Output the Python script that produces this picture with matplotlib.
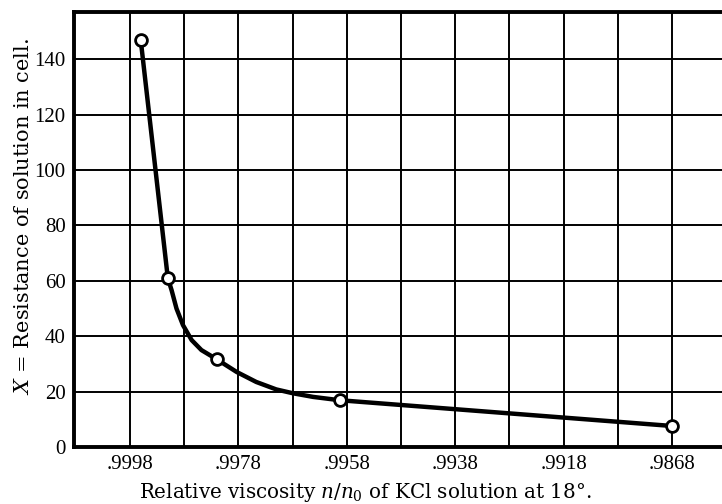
# Resistance of solution in cell against relative viscosity of KCl solution.

import matplotlib.pyplot as plt

plt.rcParams['font.family'] = 'Liberation Serif'
plt.rcParams['mathtext.fontset'] = 'dejavuserif'

# measured points
viscosity = [0.9996, 0.9991, 0.9982, 0.99593, 0.9898]
resistance = [147, 61, 31.7, 16.9, 7.6]

# points
curve_visc = [0.9996, 0.9991, 0.99903, 0.99894, 0.99882, 0.99866, 0.99848,
              0.9982, 0.99783, 0.99747, 0.99710, 0.99679, 0.99642, 0.99593,
              0.9898]
curve_res = [147, 61, 56.6, 50.0, 44.0, 38.6, 35.0, 31.7, 27.1, 23.5, 20.8,
             19.4, 18.1, 16.9, 7.6]

xticks = [0.9998, 0.9978, 0.9958, 0.9938, 0.9918, 0.9898]
xtick_labels = ['.9998', '.9978', '.9958', '.9938', '.9918', '.9868']
xminor = [0.9988, 0.9968, 0.9948, 0.9928, 0.9908]
yticks = [0, 20, 40, 60, 80, 100, 120, 140]

fig = plt.figure(figsize=(7.22, 5.04), dpi=100)
ax = fig.add_axes([0.1025, 0.113, 0.8975, 0.863])

ax.plot(curve_visc, curve_res, 'k-', linewidth=3.2, solid_capstyle='round',
        solid_joinstyle='round', zorder=3)
ax.plot(viscosity, resistance, 'o', markersize=8.5, markerfacecolor='white',
        markeredgecolor='black', markeredgewidth=2, zorder=4)

ax.set_xlim(1.00083, 0.98888)
ax.set_ylim(0, 157)
ax.set_xticks(xticks)
ax.set_xticklabels(xtick_labels)
ax.set_xticks(xminor, minor=True)
ax.set_yticks(yticks)
ax.tick_params(which='both', length=0, labelsize=15, pad=6)
ax.grid(True, which='both', color='black', linewidth=1.4)

for side in ['left', 'top', 'bottom']:
    ax.spines[side].set_linewidth(2.8)
ax.spines['right'].set_visible(False)

ax.set_xlabel(r'Relative viscosity $n/n_0$ of KCl solution at 18°.',
              fontsize=14.3, family='DejaVu Serif')
ax.set_ylabel(r'$X$ = Resistance of solution in cell.', fontsize=15,
              family='DejaVu Serif')
ax.xaxis.set_label_coords(0.449, -0.078)
ax.yaxis.set_label_coords(-0.063, 0.53)

plt.savefig('out.png', dpi=100)
